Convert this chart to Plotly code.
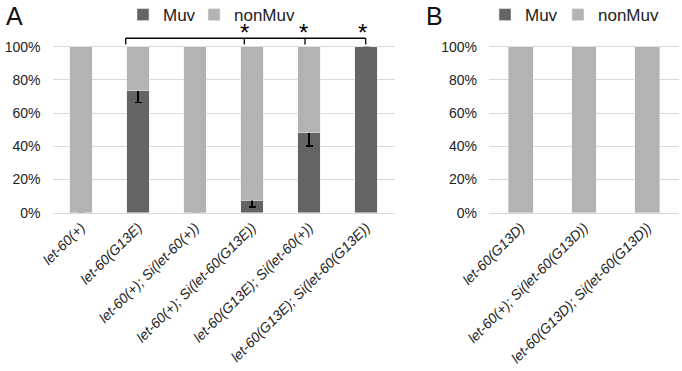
import plotly.graph_objects as go

# Panel A data
cats_a = ["let-60(+)", "let-60(G13E)", "let-60(+); Si(let-60(+))",
          "let-60(+); Si(let-60(G13E))", "let-60(G13E); Si(let-60(+))",
          "let-60(G13E); Si(let-60(G13E))"]
muv_a = [0, 73.5, 0, 7.5, 48.2, 100]
nonmuv_a = [100, 26.5, 100, 92.5, 51.8, 0]
err_a = [None, 7, None, 4.2, 8, None]

# Panel B data
cats_b = ["let-60(G13D)", "let-60(+); Si(let-60(G13D))", "let-60(G13D); Si(let-60(G13D))"]
muv_b = [0, 0, 0]
nonmuv_b = [100, 100, 100]

# significance bracket (category-index positions)
bracket_left = 0.784
bracket_ticks = [2.865, 3.93, 4.995]
star_x = [2.86, 3.895, 4.93]

C_MUV = "#646464"
C_NON = "#b3b3b3"
GRID = "#d9d9d9"
FONT = "Liberation Sans, Arial, sans-serif"

def ital(labels):
    return ["<i>" + s + "</i>" for s in labels]

fig = go.Figure()
fig.add_trace(go.Bar(x=list(range(6)), y=muv_a, name="Muv", marker_color=C_MUV,
                     error_y=dict(type="data", array=err_a, color="black", thickness=1.5, width=3.5),
                     xaxis="x", yaxis="y", legend="legend"))
fig.add_trace(go.Bar(x=list(range(6)), y=nonmuv_a, name="nonMuv", marker_color=C_NON,
                     xaxis="x", yaxis="y", legend="legend2"))
fig.add_trace(go.Bar(x=list(range(3)), y=muv_b, name="Muv", marker_color=C_MUV,
                     xaxis="x2", yaxis="y2", legend="legend3"))
fig.add_trace(go.Bar(x=list(range(3)), y=nonmuv_b, name="nonMuv", marker_color=C_NON,
                     xaxis="x2", yaxis="y2", legend="legend4"))

ydom = [1 - 212.7 / 371, 1 - (212.7 - 166 * 1.16) / 371]
yax = dict(range=[0, 116], tickvals=[0, 20, 40, 60, 80, 100],
           ticktext=["0%", "20%", "40%", "60%", "80%", "100%"],
           showgrid=True, gridcolor=GRID, gridwidth=1.3, zeroline=False,
           showline=False, ticks="", ticklabelstandoff=11, automargin=False,
           tickfont=dict(size=14, color="#222"), domain=ydom)
xcommon = dict(showgrid=False, zeroline=False, showline=True, linecolor=GRID, linewidth=1.3,
               ticks="", tickangle=-45, automargin=False,
               tickfont=dict(size=14, color="#222"))

def leg(xpx):
    return dict(orientation="h", x=xpx / 682, xanchor="left", y=1.008, yanchor="top",
                font=dict(size=17), itemwidth=30, bgcolor="rgba(0,0,0,0)")

fig.update_layout(
    width=682, height=371, margin=dict(l=0, r=0, t=0, b=0, autoexpand=False),
    paper_bgcolor="white", plot_bgcolor="white",
    font=dict(family=FONT, color="#222"),
    barmode="stack", bargap=0.61,
    xaxis=dict(domain=[52.5 / 682, 394.5 / 682], range=[-0.5, 5.5],
               tickvals=list(range(6)), ticktext=ital(cats_a), **xcommon),
    yaxis=dict(anchor="x", **yax),
    xaxis2=dict(domain=[489 / 682, 679 / 682], range=[-0.5, 2.5], anchor="y2",
                tickvals=list(range(3)), ticktext=ital(cats_b), **xcommon),
    yaxis2=dict(anchor="x2", **yax),
    legend=leg(123), legend2=leg(194), legend3=leg(485), legend4=leg(558),
    showlegend=True,
)

# bracket
y_line, y_tick = 105.1, 101.4
fig.add_shape(type="line", xref="x", yref="y", x0=bracket_left, x1=bracket_ticks[-1],
              y0=y_line, y1=y_line, line=dict(color="black", width=1.3))
for xt in [bracket_left] + bracket_ticks:
    fig.add_shape(type="line", xref="x", yref="y", x0=xt, x1=xt, y0=y_line, y1=y_tick,
                  line=dict(color="black", width=1.3))
for xs in star_x:
    fig.add_annotation(x=xs, y=108.4, xref="x", yref="y", text="*", showarrow=False,
                       font=dict(size=24, color="black"), yanchor="middle")

# panel letters
fig.add_annotation(x=4 / 682, y=1.0, xref="paper", yref="paper", text="A", showarrow=False,
                   xanchor="left", yanchor="top", font=dict(size=25, color="#111"))
fig.add_annotation(x=424 / 682, y=1.0, xref="paper", yref="paper", text="B", showarrow=False,
                   xanchor="left", yanchor="top", font=dict(size=25, color="#111"))

fig.write_html("out.html", config={"displayModeBar": False},
               post_script="document.body.style.margin='0';document.body.style.padding='0';")
